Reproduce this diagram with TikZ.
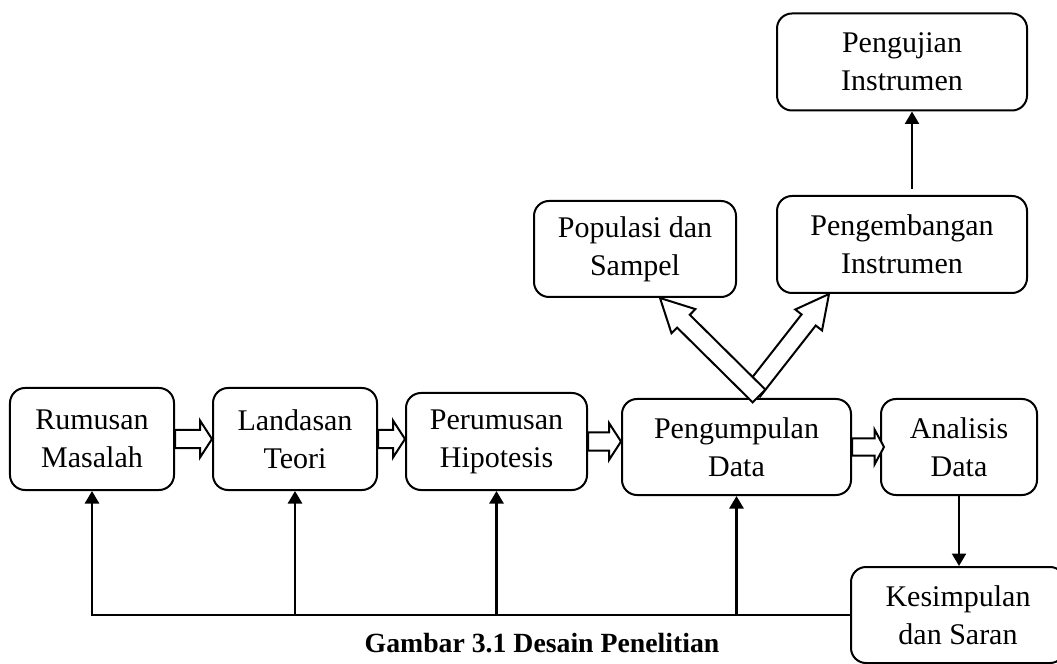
\documentclass[tikz,border=0pt]{standalone}
\usepackage{fontspec}
\setmainfont{Liberation Serif}
\usepackage{tikz}
\usetikzlibrary{calc, arrows.meta}

% panah blok (hollow arrow): #1 from, #2 to, #3 half shaft, #4 half head, #5 head length
\newcommand{\panahblok}[5]{%
  \draw[blok] ($(#1)!#3!-90:(#2)$) -- ($(#2)!#5!(#1)!#3!90:(#1)$)
    -- ($(#2)!#5!(#1)!#4!90:(#1)$) -- (#2)
    -- ($(#2)!#5!(#1)!#4!-90:(#1)$) -- ($(#2)!#5!(#1)!#3!-90:(#1)$)
    -- ($(#1)!#3!90:(#2)$) -- cycle;}

\begin{document}
\begin{tikzpicture}[x=0.4pt, y=-0.4pt,
  kotak/.style={draw, rounded corners=6pt, line width=0.8pt, align=center,
    inner sep=0pt, font=\fontsize{12}{15.2}\selectfont},
  blok/.style={draw, fill=white, line width=0.8pt, line join=miter},
  garis/.style={line width=1pt, -{Triangle[length=5pt,width=5.6pt]}}]
\useasboundingbox (0,0) rectangle (1057,664);

% Boxes on the main row
\node[kotak, minimum width=65.6pt, minimum height=40.8pt] (rm) at (92,439) {Rumusan\\Masalah};
\node[kotak, minimum width=65.6pt, minimum height=40.8pt] (lt) at (295,439) {Landasan\\Teori};
\node[kotak, minimum width=72.4pt, minimum height=38.8pt] (ph) at (496.5,441.5) {Perumusan\\Hipotesis};
\node[kotak, minimum width=91.6pt, minimum height=38.4pt] (pd) at (736.5,447) {Pengumpulan\\Data};
\node[kotak, minimum width=62.4pt, minimum height=38.4pt] (ad) at (959,447) {Analisis\\Data};
\node[kotak, minimum width=85.6pt, minimum height=38.4pt] (ks) at (958,615) {Kesimpulan\\dan Saran};

% Boxes above
\node[kotak, minimum width=80.8pt, minimum height=38.4pt] (ps) at (635,249) {Populasi dan\\Sampel};
\node[kotak, minimum width=100pt, minimum height=38.8pt] (pi) at (902,244.5) {Pengembangan\\Instrumen};
\node[kotak, minimum width=100pt, minimum height=38.8pt] (uji) at (902,62) {Pengujian\\Instrumen};

% Hollow arrows along the row
\panahblok{rm.east}{lt.west}{3.6pt}{7.4pt}{4.8pt}
\panahblok{lt.east}{lt.east -| ph.west}{3.6pt}{7.4pt}{4.8pt}
\panahblok{ph.east}{ph.east -| pd.west}{3.6pt}{7.4pt}{4.8pt}
\panahblok{pd.east}{[xshift=1.6pt]ad.west}{3.4pt}{7pt}{3.8pt}

% Hollow arrows up from Pengumpulan Data
\coordinate (b1) at ([xshift=9pt,yshift=0.8pt]pd.north);
\coordinate (b2) at ([xshift=6.6pt,yshift=2.8pt]pd.north);
\coordinate (t1) at ([xshift=10pt]ps.south);
\coordinate (t2) at ([xshift=-29.2pt]pi.south);
\panahblok{b2}{t2}{3.6pt}{6.8pt}{13.2pt}
\panahblok{b1}{t1}{3.6pt}{6.8pt}{13.2pt}

% Plain arrows
\draw[garis, shorten <=2.5pt] ([xshift=4pt]pi.north) -- ([xshift=4pt]pi.north |- uji.south);
\draw[garis] (ad.south) -- (ad.south |- ks.north);

% Feedback line
\draw[garis] (ks.west) -- (rm.south |- ks.west) -- (rm.south);
\foreach \n in {lt,ph,pd}
  \draw[garis] (\n.south |- ks.west) -- (\n.south);

\node[font=\fontsize{11.1}{13}\selectfont\bfseries, anchor=base] (judul) at (542,652) {Gambar 3.1 Desain Penelitian};
\end{tikzpicture}
\end{document}
